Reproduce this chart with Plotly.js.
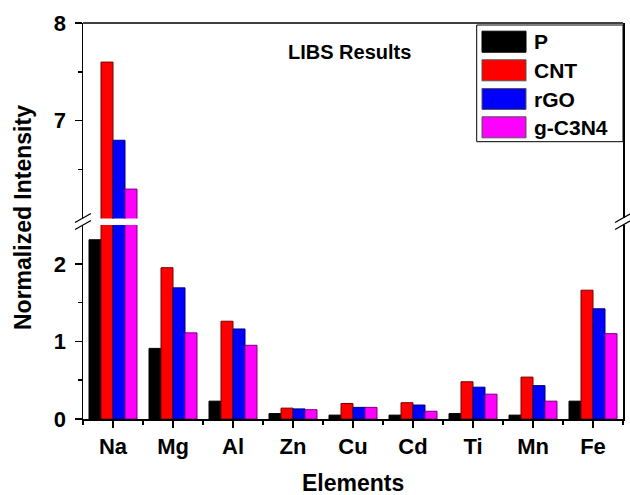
<!DOCTYPE html>
<html>
<head>
<meta charset="utf-8">
<script src="https://cdn.plot.ly/plotly-3.0.1.min.js"></script>
<style>html,body{margin:0;padding:0;background:#fff;}#chart{width:630px;height:495px;}</style>
</head>
<body>
<div id="chart"></div>
<script>
// ---- data ----
const categories = ['Na','Mg','Al','Zn','Cu','Cd','Ti','Mn','Fe'];
const seriesNames = ['P','CNT','rGO','g-C3N4'];
const P      = [2.31, 0.91, 0.23, 0.07, 0.05, 0.05, 0.07, 0.05, 0.23];
const CNT    = [7.60, 1.95, 1.26, 0.14, 0.20, 0.21, 0.48, 0.54, 1.66];
const rGO    = [6.80, 1.69, 1.16, 0.13, 0.15, 0.18, 0.41, 0.43, 1.42];
const gC3N4  = [6.30, 1.11, 0.95, 0.12, 0.15, 0.10, 0.32, 0.23, 1.10];
const lowerTicks = [0, 1, 2];
const upperTicks = [7, 8];
const chartTitle = 'LIBS Results';
const xTitle = 'Elements';
const yTitle = 'Normalized Intensity';

// ---- styling ----
const fills = ['#000000', '#ff0000', '#0000ff', '#ff00ff'];
const edges = ['#000000', '#7a0000', '#00007a', '#7a007a'];
const F = 'Liberation Sans, Arial, Helvetica, sans-serif';
const seriesVals = [P, CNT, rGO, gC3N4];
const idx = categories.map((_, i) => i);
const halves = [-0.5].concat(idx.map(i => i + 0.5));

const traces = [];
['y', 'y2'].forEach(ax => {
  seriesVals.forEach((vals, k) => {
    traces.push({
      type: 'bar', x: idx, y: vals, name: seriesNames[k],
      xaxis: 'x', yaxis: ax, showlegend: false,
      marker: {color: fills[k], line: {color: edges[k], width: 1}},
      cliponaxis: true, hoverinfo: 'skip'
    });
  });
});

// plot-area geometry helpers (pixels -> paper)
const L = 83, R = 7, T = 23, B = 76, W = 630, H = 495;
const pw = W - L - R, ph = H - T - B;
const px = x => (x - L) / pw;
const py = y => (H - B - y) / ph;

const lowerDomain = [0, py(225)];
const upperDomain = [py(218.4), 1];

const tickFont = {family: F, size: 22, color: '#000', weight: 'bold'};
const commonY = {
  ticks: 'outside', ticklen: 7, tickwidth: 1.5, tickcolor: '#000',
  showline: true, mirror: true, linewidth: 1.5, linecolor: '#000',
  showgrid: false, zeroline: false, tickfont: tickFont, ticklabelstandoff: 4
};

const shapes = [
  // top frame line
  {type: 'line', xref: 'paper', yref: 'paper', x0: 0, x1: 1, y0: 1, y1: 1, line: {color: '#000', width: 1.5}},
  // axis-break slashes (left and right)
  {type: 'line', xref: 'paper', yref: 'paper', x0: px(75), y0: py(222.5), x1: px(91), y1: py(213.5), line: {color: '#000', width: 1.3}},
  {type: 'line', xref: 'paper', yref: 'paper', x0: px(75), y0: py(229.5), x1: px(91), y1: py(220.5), line: {color: '#000', width: 1.3}},
  {type: 'line', xref: 'paper', yref: 'paper', x0: px(615), y0: py(222.5), x1: px(631), y1: py(213.5), line: {color: '#000', width: 1.3}},
  {type: 'line', xref: 'paper', yref: 'paper', x0: px(615), y0: py(229.5), x1: px(631), y1: py(220.5), line: {color: '#000', width: 1.3}},
  // legend box
  {type: 'rect', xref: 'paper', yref: 'paper', x0: px(476.7), x1: 1, y0: py(141.7), y1: py(25), line: {color: '#000', width: 1}, fillcolor: '#fff'}
];

const annotations = [
  {xref: 'paper', yref: 'paper', x: px(349.5), y: py(52), text: chartTitle, showarrow: false,
   xanchor: 'center', yanchor: 'middle', font: {family: F, size: 20, color: '#000', weight: 'bold'}},
  {xref: 'paper', yref: 'paper', x: px(23), y: py(218), text: yTitle, showarrow: false, textangle: -90,
   xanchor: 'center', yanchor: 'middle', font: {family: F, size: 23, color: '#000', weight: 'bold'}},
  {xref: 'paper', yref: 'paper', x: px(352.7), y: py(482.5), text: xTitle, showarrow: false,
   xanchor: 'center', yanchor: 'middle', font: {family: F, size: 23, color: '#000', weight: 'bold'}}
];

// custom legend (large swatches as in the reference)
const rowCenters = [41.7, 70.3, 99, 127.3];
seriesNames.forEach((nm, k) => {
  const c = rowCenters[k];
  shapes.push({type: 'rect', xref: 'paper', yref: 'paper', x0: px(482), x1: px(526),
    y0: py(c + 10.5), y1: py(c - 10.5), fillcolor: fills[k], line: {color: edges[k] === '#000000' ? '#000' : '#555', width: 1}});
  annotations.push({xref: 'paper', yref: 'paper', x: px(532), y: py(c), text: nm, showarrow: false,
    xanchor: 'left', yanchor: 'middle', font: {family: F, size: 21, color: '#000', weight: 'bold'}});
});

const layout = {
  width: W, height: H,
  margin: {l: L, r: R, t: T, b: B, pad: 0},
  paper_bgcolor: '#fff', plot_bgcolor: '#fff',
  showlegend: false,
  barmode: 'group', bargap: 0.2, bargroupgap: 0,
  font: {family: F, size: 21, color: '#000', weight: 'bold'},
  xaxis: {
    range: [-0.5, 8.5], tickvals: idx, ticktext: categories,
    ticks: 'outside', ticklen: 7, tickwidth: 1.5, tickcolor: '#000',
    showline: true, linewidth: 1.5, linecolor: '#000', showgrid: false, zeroline: false,
    anchor: 'y', tickfont: tickFont, ticklabelstandoff: 0,
    minor: {tickvals: halves, ticks: 'outside', ticklen: 4, tickwidth: 1.5, tickcolor: '#000', showgrid: false}
  },
  yaxis: Object.assign({}, commonY, {
    domain: lowerDomain, range: [0, 2.5], tickvals: lowerTicks, anchor: 'x',
    minor: {tickvals: [0.5, 1.5], ticks: 'outside', ticklen: 4, tickwidth: 1.5, tickcolor: '#000', showgrid: false}
  }),
  yaxis2: Object.assign({}, commonY, {
    domain: upperDomain, range: [6, 8], tickvals: upperTicks, anchor: 'x',
    minor: {tickvals: [6.5, 7.5], ticks: 'outside', ticklen: 4, tickwidth: 1.5, tickcolor: '#000', showgrid: false}
  }),
  shapes: shapes,
  annotations: annotations
};

Plotly.newPlot('chart', traces, layout, {displayModeBar: false, staticPlot: true});
</script>
</body>
</html>
